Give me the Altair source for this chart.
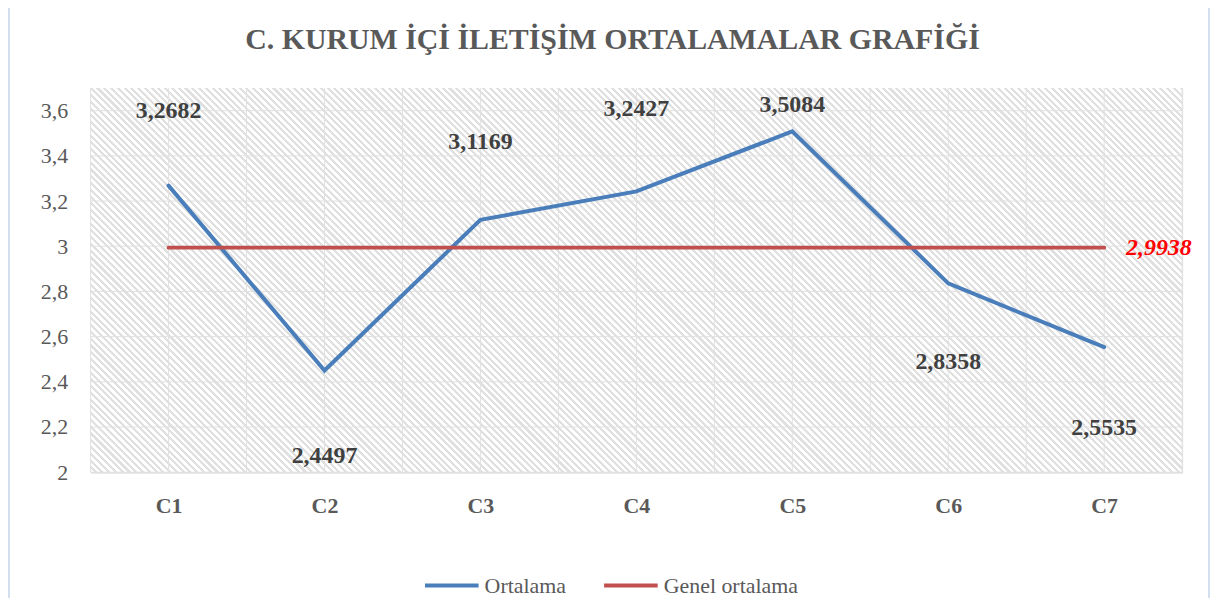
import altair as alt
import pandas as pd

categories = ["C1", "C2", "C3", "C4", "C5", "C6", "C7"]
ortalama = [3.2682, 2.4497, 3.1169, 3.2427, 3.5084, 2.8358, 2.5535]
genel_ortalama = 2.9938
label_y = [3.600, 2.071, 3.459, 3.609, 3.627, 2.488, 2.197]
y_ticks = [2.0, 2.2, 2.4, 2.6, 2.8, 3.0, 3.2, 3.4, 3.6]
series_names = ["Ortalama", "Genel ortalama"]
series_colors = ["#4a7ebb", "#c0504d"]
title_text = "C. KURUM İÇİ İLETİŞİM ORTALAMALAR GRAFİĞİ"

W, H = 1097, 386
FONT = "Liberation Serif"

n = len(categories)
rows = []
for i, (c, v) in enumerate(zip(categories, ortalama)):
    rows.append({"series": series_names[0], "idx": i, "cat": c, "value": v, "ly": label_y[i]})
line_df = pd.DataFrame(rows)
mean_df = pd.DataFrame([{"series": series_names[1], "idx": i, "value": genel_ortalama} for i in range(n)])
all_lines = pd.concat([line_df[["series", "idx", "value"]], mean_df], ignore_index=True)

vgrid_df = pd.DataFrame({"gx": [i / 2 - 0.5 for i in range(2 * n + 1)]})
hgrid_df = pd.DataFrame({"gy": y_ticks})

xscale = alt.Scale(domain=[-0.5, n - 0.5], nice=False, zero=False)
yscale = alt.Scale(domain=[2.0, 3.7], nice=False, zero=False)

# diagonal hatch via a striped linear gradient
r = H / W
s = (1 + r) / (1 + r * r)
span = (W + H) / 2 ** 0.5
periods = int(round(span / 4.8))
stops = []
for k in range(periods):
    a = k / periods
    b = (k + 0.55) / periods
    e = (k + 1) / periods
    stops += [
        {"offset": a, "color": "#ffffff"},
        {"offset": b, "color": "#ffffff"},
        {"offset": b, "color": "#e0e0e0"},
        {"offset": e, "color": "#e0e0e0"},
    ]
hatch = {"gradient": "linear", "x1": 0, "y1": 1, "x2": s, "y2": 1 - s * r, "stops": stops}

one = pd.DataFrame({"a": [0]})
bg = alt.Chart(one).mark_rect(color=hatch).encode(
    x=alt.value(0), x2=alt.value(W), y=alt.value(0), y2=alt.value(H)
)
frame = alt.Chart(one).mark_rect(fillOpacity=0, stroke="#c5d4ea", strokeWidth=1.5).encode(
    x=alt.value(-82), x2=alt.value(W + 27), y=alt.value(-95), y2=alt.value(H + 140)
)
title = alt.Chart(one).mark_text(
    text=title_text, font=FONT, fontSize=30, fontWeight="bold", color="#595959",
    align="center", baseline="alphabetic",
).encode(x=alt.value(W / 2 - 24), y=alt.value(-39))

vgrid = alt.Chart(vgrid_df).mark_rule(color="#e1e1e1", strokeWidth=1).encode(
    x=alt.X("gx:Q", scale=xscale)
)
hgrid = alt.Chart(hgrid_df).mark_rule(color="#e1e1e1", strokeWidth=1).encode(
    y=alt.Y("gy:Q", scale=yscale)
)

cat_js = "[" + ",".join("'%s'" % c for c in categories) + "]"

lines = alt.Chart(all_lines).mark_line(strokeWidth=4, strokeCap="round").encode(
    x=alt.X(
        "idx:Q", scale=xscale,
        axis=alt.Axis(
            values=list(range(n)), labelExpr=cat_js + "[datum.value]", title=None,
            grid=False, ticks=False, domain=True, domainColor="#d9d9d9", domainWidth=1.5,
            labelFont=FONT, labelFontSize=22, labelFontWeight="bold", labelColor="#595959",
            labelPadding=24,
        ),
    ),
    y=alt.Y(
        "value:Q", scale=yscale,
        axis=alt.Axis(
            values=y_ticks, labelExpr="replace(format(datum.value, '.1~f'), '.', ',')",
            title=None, grid=False, ticks=False, domain=False,
            labelFont=FONT, labelFontSize=22, labelColor="#595959", labelPadding=23,
        ),
    ),
    color=alt.Color(
        "series:N",
        scale=alt.Scale(domain=series_names, range=series_colors),
        sort=series_names,
        legend=alt.Legend(
            title=None, orient="none", direction="horizontal", legendX=334, legendY=471,
            symbolType="stroke", symbolStrokeWidth=4, symbolSize=2900,
            labelFont=FONT, labelFontSize=22, labelColor="#595959",
            columnPadding=30, labelOffset=4, symbolOffset=0,
        ),
    ),
    detail="series:N",
)

labels = alt.Chart(line_df).transform_calculate(
    lab="replace(format(datum.value, '.4f'), '.', ',')"
).mark_text(font=FONT, fontSize=24, fontWeight="bold", color="#404040", baseline="middle").encode(
    x=alt.X("idx:Q", scale=xscale), y=alt.Y("ly:Q", scale=yscale), text="lab:N"
)

mean_label = alt.Chart(pd.DataFrame({"idx": [n - 1], "value": [genel_ortalama]})).transform_calculate(
    lab="replace(format(datum.value, '.4f'), '.', ',')"
).mark_text(
    font=FONT, fontSize=24, fontWeight="bold", fontStyle="italic", color="#ff0000",
    align="left", baseline="middle", dx=22,
).encode(x=alt.X("idx:Q", scale=xscale), y=alt.Y("value:Q", scale=yscale), text="lab:N")

chart = alt.layer(frame, bg, vgrid, hgrid, lines, labels, mean_label, title).properties(
    width=W, height=H,
    autosize=alt.AutoSizeParams(type="none"),
    padding={"left": 83, "top": 79, "right": 29, "bottom": 125},
).configure_view(stroke="#dedede", strokeWidth=1).configure(background="white")

chart.save("out.html", embed_options={"renderer": "svg", "actions": False})
